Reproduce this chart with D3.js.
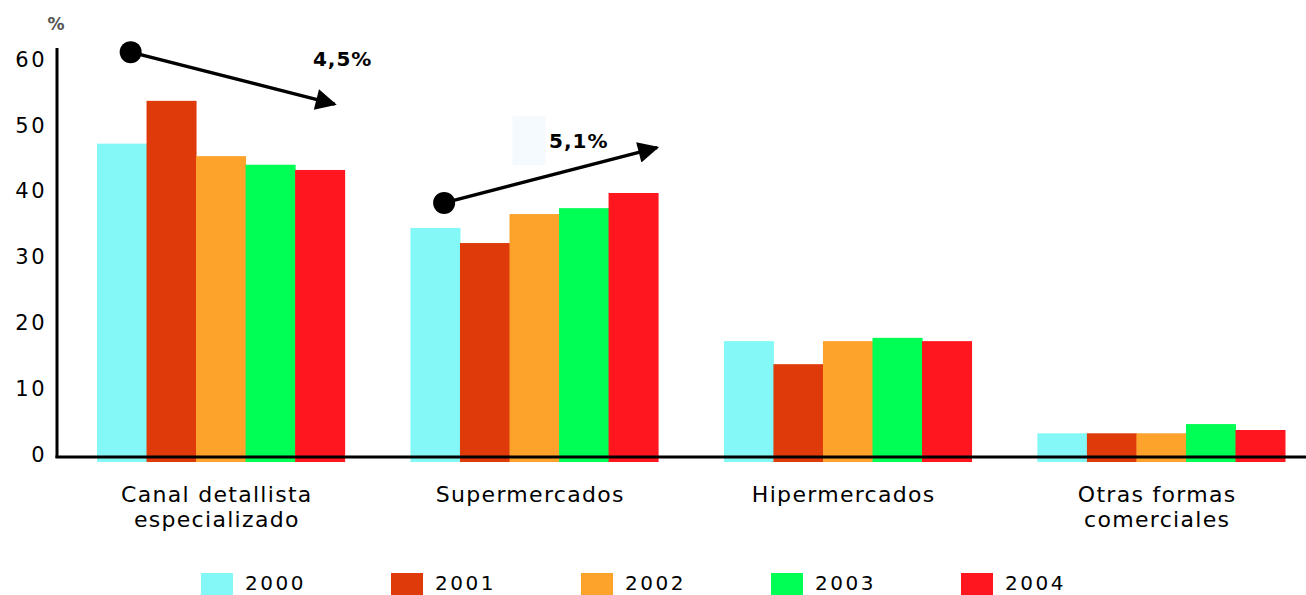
<!DOCTYPE html>
<html>
<head>
<meta charset="utf-8">
<script src="https://cdn.jsdelivr.net/npm/d3@7"></script>
<style>
  html, body { margin: 0; padding: 0; background: #ffffff; }
  svg { display: block; }
  text { font-family: "DejaVu Sans", Verdana, sans-serif; fill: #000; }
</style>
</head>
<body>
<svg id="chart" width="1306" height="595"></svg>
<script>
// ---- data ----
const categories = ["Canal detallista|especializado", "Supermercados", "Hipermercados", "Otras formas|comerciales"];
const years = ["2000", "2001", "2002", "2003", "2004"];
const values2000 = [47.6, 34.8, 17.6, 3.6];
const values2001 = [54.1, 32.5, 14.1, 3.6];
const values2002 = [45.7, 36.9, 17.6, 3.6];
const values2003 = [44.4, 37.8, 18.1, 5.0];
const values2004 = [43.6, 40.1, 17.6, 4.1];
const yTicks = [0, 10, 20, 30, 40, 50, 60];
const colors = ["#84f8f6", "#de3a0a", "#fda22b", "#00ff55", "#ff161e"];
// trend annotations
const annotCats = [0, 1];
const annotFrom = [61.5, 38.6];
const annotTo = [53.6, 47.0];
const annotLabels = ["4,5%", "5,1%"];
const annotLabelVals = [60.6, 48.1];

const series = [values2000, values2001, values2002, values2003, values2004];

// ---- layout ----
const svg = d3.select("#chart");
const axisX = 57, baseY = 457, topY = 62;

const y = d3.scaleLinear().domain([0, 60]).range([baseY, topY]);
const x0 = d3.scaleBand().domain(categories).range([97, 1285]).paddingInner(0.21).paddingOuter(0);
const x1 = d3.scaleBand().domain(years).range([0, x0.bandwidth()]).padding(0);

// bars
const g = svg.append("g");
categories.forEach((c, ci) => {
  years.forEach((yr, yi) => {
    const v = series[yi][ci];
    g.append("rect")
      .attr("x", x0(c) + x1(yr))
      .attr("y", y(v))
      .attr("width", x1.bandwidth() + 0.5)
      .attr("height", y(0) - y(v) + 5)
      .attr("fill", colors[yi]);
  });
});

// y axis labels
const yAxis = d3.axisLeft(y).tickValues(yTicks).tickSize(0).tickPadding(10);
const ya = svg.append("g").attr("transform", `translate(${axisX},0)`).call(yAxis);
ya.select(".domain").remove();
ya.selectAll("text")
  .style("font-family", '"DejaVu Sans", sans-serif')
  .style("font-size", "21px")
  .style("letter-spacing", "2.5px")
  .attr("fill", "#000")
  .attr("dy", "0.2em");

// axis lines
svg.append("line").attr("x1", axisX).attr("x2", axisX).attr("y1", 48).attr("y2", baseY + 1)
  .attr("stroke", "#000").attr("stroke-width", 3);
svg.append("line").attr("x1", axisX - 1.5).attr("x2", 1306).attr("y1", baseY).attr("y2", baseY)
  .attr("stroke", "#000").attr("stroke-width", 3);

// % unit label
svg.append("text").attr("x", 56).attr("y", 30).attr("text-anchor", "middle")
  .style("font-size", "17px").style("font-weight", "bold").style("fill", "#555").text("%");

// category labels
categories.forEach(c => {
  const lines = c.split("|");
  const cx = x0(c) + x0.bandwidth() / 2 - 4;
  const t = svg.append("text")
    .attr("x", cx)
    .attr("y", 502)
    .attr("text-anchor", "middle")
    .style("font-size", "22px")
    .style("letter-spacing", "1.3px");
  lines.forEach((l, i) => {
    t.append("tspan").attr("x", cx).attr("dy", i === 0 ? 0 : 25).text(l);
  });
});

// annotations
const defs = svg.append("defs");
defs.append("marker").attr("id", "arrowhead")
  .attr("viewBox", "0 0 10 10").attr("refX", 9).attr("refY", 5)
  .attr("markerWidth", 8.5).attr("markerHeight", 6).attr("orient", "auto")
  .attr("markerUnits", "strokeWidth")
  .append("path").attr("d", "M0,0 L10,5 L0,10 Z").attr("fill", "#000");

// faint highlight box near second label
svg.append("rect")
  .attr("x", x0(categories[1]) + x1("2002") + 3)
  .attr("y", y(51.8))
  .attr("width", 33).attr("height", 49)
  .attr("fill", "#f5faff");

const endFrac = [0.8, 0.98];
annotCats.forEach((ci, i) => {
  const c = categories[ci];
  const sx = x0(c) + x1("2000") + x1.bandwidth() * 0.68;
  const ex = x0(c) + x1("2004") + x1.bandwidth() * endFrac[i];
  svg.append("line")
    .attr("x1", sx).attr("y1", y(annotFrom[i]))
    .attr("x2", ex).attr("y2", y(annotTo[i]))
    .attr("stroke", "#000").attr("stroke-width", 3.5)
    .attr("marker-end", "url(#arrowhead)");
  svg.append("circle").attr("cx", sx).attr("cy", y(annotFrom[i])).attr("r", 11).attr("fill", "#000");
  const lx = ci === 0 ? x0(c) + x1("2004") + x1.bandwidth() * 0.96 : x0(c) + x1("2003") + x1.bandwidth() * 0.4;
  svg.append("text")
    .attr("x", lx).attr("y", y(annotLabelVals[i]) + 8)
    .attr("text-anchor", "middle")
    .style("font-size", "20px").style("font-weight", "bold").style("letter-spacing", "1px")
    .text(annotLabels[i]);
});

// legend
const legend = svg.append("g");
years.forEach((yr, i) => {
  const lx = 201 + i * 190;
  legend.append("rect").attr("x", lx).attr("y", 573).attr("width", 32).attr("height", 22).attr("fill", colors[i]);
  legend.append("text").attr("x", lx + 44).attr("y", 590)
    .style("font-size", "20px").style("letter-spacing", "2.5px").text(yr);
});
</script>
</body>
</html>
